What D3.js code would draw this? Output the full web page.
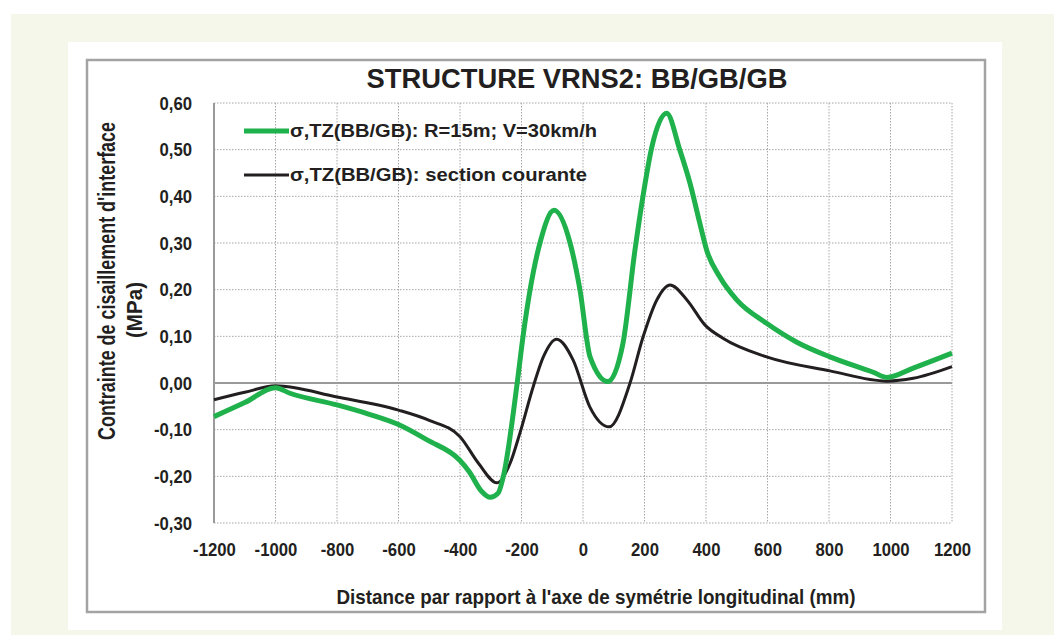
<!DOCTYPE html>
<head>
  <meta charset="utf-8" />
  <script src="https://d3js.org/d3.v7.min.js"></script>
  <style>
    body { margin: 0; background: #fff; }
    text { font-weight: bold; fill: #231f20; font-family: "Liberation Sans", Arial, sans-serif; }
  </style>
</head>
<body>
<script>
// valeurs
var xTicks = [-1200, -1000, -800, -600, -400, -200, 0, 200, 400, 600, 800, 1000, 1200];
var yTicks = [-0.3, -0.2, -0.1, 0, 0.1, 0.2, 0.3, 0.4, 0.5, 0.6];

// courbe verte : R=15m ; V=30km/h
var greenX = [-1200, -1100, -1000, -953, -800, -700, -600, -507, -400, -370, -330, -302, -276, -259, -214, -195, -172, -140, -94, -42, -10, 23, 81, 130, 169, 195, 224, 272, 315, 348, 380, 402, 445, 500, 597, 694, 803, 944, 988, 1074, 1200];
var greenY = [-0.072, -0.042, -0.010, -0.022, -0.047, -0.066, -0.089, -0.122, -0.166, -0.190, -0.232, -0.245, -0.236, -0.200, 0.000, 0.100, 0.200, 0.300, 0.370, 0.300, 0.200, 0.056, 0.003, 0.085, 0.285, 0.400, 0.506, 0.578, 0.499, 0.428, 0.342, 0.285, 0.227, 0.178, 0.128, 0.088, 0.056, 0.023, 0.012, 0.032, 0.064];

// courbe noire : section courante
var blackX = [-1200, -1100, -1000, -800, -600, -500, -400, -340, -280, -237, -205, -162, -129, -86, -32, 22, 85, 153, 195, 240, 283, 338, 397, 455, 597, 803, 988, 1074, 1200];
var blackY = [-0.036, -0.020, -0.006, -0.030, -0.058, -0.080, -0.115, -0.172, -0.214, -0.172, -0.107, -0.008, 0.056, 0.094, 0.049, -0.051, -0.094, 0.000, 0.098, 0.178, 0.210, 0.178, 0.124, 0.096, 0.056, 0.026, 0.004, 0.010, 0.035];

var seriesNames = ["\u03c3,TZ(BB/GB): R=15m; V=30km/h", "\u03c3,TZ(BB/GB): section courante"];
var seriesColors = ["#1fb14b", "#231f20"];

var width = 1054, height = 635;

var svg = d3.select("body").append("svg")
  .attr("width", width)
  .attr("height", height);

// fonds
svg.append("rect").attr("x", 11).attr("y", 14).attr("width", width - 11).attr("height", height - 14).attr("fill", "#f4f7e9");
svg.append("rect").attr("x", 68).attr("y", 42).attr("width", 934).attr("height", 588).attr("fill", "#fff");
svg.append("rect").attr("x", 87).attr("y", 60).attr("width", 898).attr("height", 552)
  .attr("fill", "none").attr("stroke", "#a3a3a3").attr("stroke-width", 2.5);

var x = d3.scaleLinear().domain([-1200, 1200]).range([214, 952]);
var y = d3.scaleLinear().domain([-0.3, 0.6]).range([523, 103]);

var fr = d3.formatLocale({ decimal: ",", thousands: " ", grouping: [3], currency: ["", "€"], minus: "-" });

// resserre un texte (police étroite absente)
function narrow(sel, k) {
  sel.each(function () {
    var w = this.getComputedTextLength();
    d3.select(this).attr("textLength", w * k).attr("lengthAdjust", "spacingAndGlyphs");
  });
}

// grille pointillée
var grid = svg.append("g");
grid.selectAll("line.h").data(yTicks.filter(function (d) { return d !== 0; }))
  .join("line")
  .attr("x1", x(-1200)).attr("x2", x(1200))
  .attr("y1", function (d) { return y(d); }).attr("y2", function (d) { return y(d); })
  .attr("stroke", "#a6a6a6").attr("stroke-width", 1).attr("stroke-dasharray", "1.5,1.5");
grid.selectAll("line.v").data(xTicks.slice(1))
  .join("line")
  .attr("x1", function (d) { return x(d); }).attr("x2", function (d) { return x(d); })
  .attr("y1", y(0.6)).attr("y2", y(-0.3))
  .attr("stroke", "#a6a6a6").attr("stroke-width", 1).attr("stroke-dasharray", "1.5,1.5");

// axes
var xAxis = svg.append("g")
  .attr("transform", "translate(0," + y(-0.3) + ")")
  .call(d3.axisBottom(x).tickValues(xTicks).tickSize(0).tickPadding(20).tickFormat(fr.format("d")));
xAxis.select(".domain").remove();
xAxis.selectAll("text").attr("font-size", 19).attr("fill", "#231f20")
  .attr("font-family", "Liberation Sans").attr("font-weight", "bold").call(narrow, 0.88);

var yAxis = svg.append("g")
  .attr("transform", "translate(" + x(-1200) + ",0)")
  .call(d3.axisLeft(y).tickValues(yTicks).tickSize(0).tickPadding(22).tickFormat(fr.format(".2f")));
yAxis.select(".domain").remove();
yAxis.selectAll("text").attr("font-size", 19).attr("fill", "#231f20")
  .attr("font-family", "Liberation Sans").attr("font-weight", "bold").call(narrow, 0.88);

// axe vertical et ligne zéro
svg.append("line").attr("x1", x(-1200)).attr("x2", x(-1200)).attr("y1", y(0.6)).attr("y2", y(-0.3))
  .attr("stroke", "#9a9a9a").attr("stroke-width", 2);
svg.append("line").attr("x1", x(-1200)).attr("x2", x(1200)).attr("y1", y(0)).attr("y2", y(0))
  .attr("stroke", "#9a9a9a").attr("stroke-width", 2);

// courbes
var line = d3.line()
  .x(function (d) { return x(d[0]); })
  .y(function (d) { return y(d[1]); })
  .curve(d3.curveMonotoneX);

svg.append("path").datum(d3.zip(blackX, blackY))
  .attr("d", line).attr("fill", "none")
  .attr("stroke", seriesColors[1]).attr("stroke-width", 3);
svg.append("path").datum(d3.zip(greenX, greenY))
  .attr("d", line).attr("fill", "none")
  .attr("stroke", seriesColors[0]).attr("stroke-width", 5).attr("stroke-linejoin", "round");

// légende
var legY = [131, 175], legW = [307, 297];
seriesNames.forEach(function (name, i) {
  svg.append("line").attr("x1", 244).attr("x2", 289).attr("y1", legY[i]).attr("y2", legY[i])
    .attr("stroke", seriesColors[i]).attr("stroke-width", i === 0 ? 5 : 3);
  svg.append("text").attr("x", 290).attr("y", legY[i] + 6)
    .attr("font-size", 18).attr("textLength", legW[i]).attr("lengthAdjust", "spacingAndGlyphs")
    .text(name);
});

// titres
svg.append("text").attr("x", 577).attr("y", 88)
  .attr("text-anchor", "middle").attr("font-size", 27)
  .attr("textLength", 421).attr("lengthAdjust", "spacingAndGlyphs")
  .text("STRUCTURE  VRNS2: BB/GB/GB");

svg.append("text").attr("x", 596).attr("y", 604)
  .attr("text-anchor", "middle").attr("font-size", 21)
  .attr("textLength", 519).attr("lengthAdjust", "spacingAndGlyphs")
  .text("Distance par rapport à l'axe de symétrie longitudinal (mm)");

svg.append("text")
  .attr("transform", "translate(115,281) rotate(-90)")
  .attr("text-anchor", "middle").attr("font-size", 24)
  .attr("textLength", 318).attr("lengthAdjust", "spacingAndGlyphs")
  .text("Contrainte de cisaillement d'interface");
svg.append("text")
  .attr("transform", "translate(142,310) rotate(-90)")
  .attr("text-anchor", "middle").attr("font-size", 22)
  .attr("textLength", 56).attr("lengthAdjust", "spacingAndGlyphs")
  .text("(MPa)");
</script>
</body>
